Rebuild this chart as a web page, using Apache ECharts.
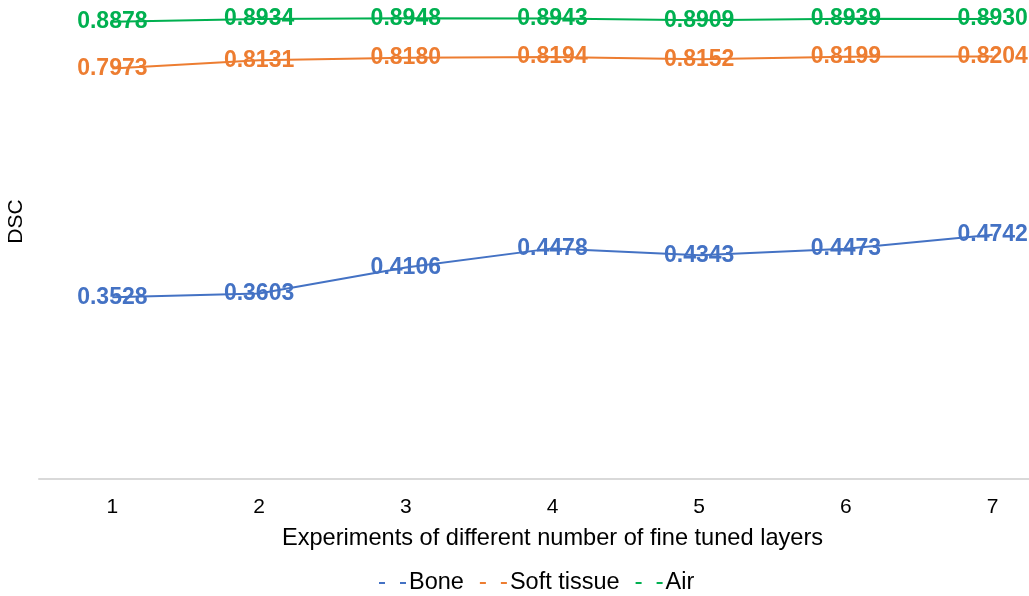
<!DOCTYPE html>
<html><head><meta charset="utf-8">
<script src="https://cdn.jsdelivr.net/npm/echarts@6/dist/echarts.min.js"></script>
<style>html,body{margin:0;padding:0;background:#fff}#c{width:1029px;height:596px}</style>
</head><body><div id="c"></div>
<script>
const categories = ['1','2','3','4','5','6','7'];
const bone = [0.3528, 0.3603, 0.4106, 0.4478, 0.4343, 0.4473, 0.4742];
const softTissue = [0.7973, 0.8131, 0.8180, 0.8194, 0.8152, 0.8199, 0.8204];
const air = [0.8878, 0.8934, 0.8948, 0.8943, 0.8909, 0.8939, 0.8930];
const seriesNames = ['Bone', 'Soft tissue', 'Air'];
const colors = ['#4472C4', '#ED7D31', '#00B050'];

const font = 'Liberation Sans, Arial, sans-serif';
function mk(name, data, color) {
  return {
    name, type: 'line', data,
    symbol: 'circle', symbolSize: 0.1, showSymbol: true,
    itemStyle: { color: color },
    lineStyle: { color: color, width: 2 },
    label: {
      show: true, position: 'inside', color: color,
      fontFamily: font, fontWeight: 'bold', fontSize: 23,
      textBorderWidth: 0,
      formatter: p => p.value.toFixed(4)
    },
    emphasis: { disabled: true },
    animation: false
  };
}
const chart = echarts.init(document.getElementById('c'), null, { renderer: 'canvas' });
chart.setOption({
  animation: false,
  color: colors,
  grid: { left: 39, right: -37, top: -36, bottom: 117, containLabel: false, outerBoundsMode: 'none' },
  xAxis: {
    type: 'category', data: categories, boundaryGap: true,
    axisLine: { show: true, lineStyle: { color: '#d9d9d9', width: 2 } },
    axisTick: { show: false },
    axisLabel: { color: '#000', fontFamily: font, fontSize: 21, margin: 18 },
    name: 'Experiments of different number of fine tuned layers',
    nameLocation: 'middle', nameGap: 47,
    nameTextStyle: { color: '#000', fontFamily: font, fontSize: 23.6 }
  },
  yAxis: {
    type: 'value', min: 0, max: 1,
    axisLine: { show: false }, axisTick: { show: false },
    axisLabel: { show: false }, splitLine: { show: false },
    name: 'DSC', nameLocation: 'middle', nameGap: 12,
    nameTextStyle: { color: '#000', fontFamily: font, fontSize: 21 }
  },
  legend: {
    data: seriesNames, left: 374, bottom: -4,
    icon: 'path://M0,0H6V2H0Z M21,0H27V2H21Z',
    itemWidth: 27, itemHeight: 2, itemGap: 16,
    textStyle: { color: '#000', fontFamily: font, fontSize: 23.5, padding: [0,0,0,-2] }
  },
  series: [mk(seriesNames[0], bone, colors[0]), mk(seriesNames[1], softTissue, colors[1]), mk(seriesNames[2], air, colors[2])]
});
</script></body></html>
